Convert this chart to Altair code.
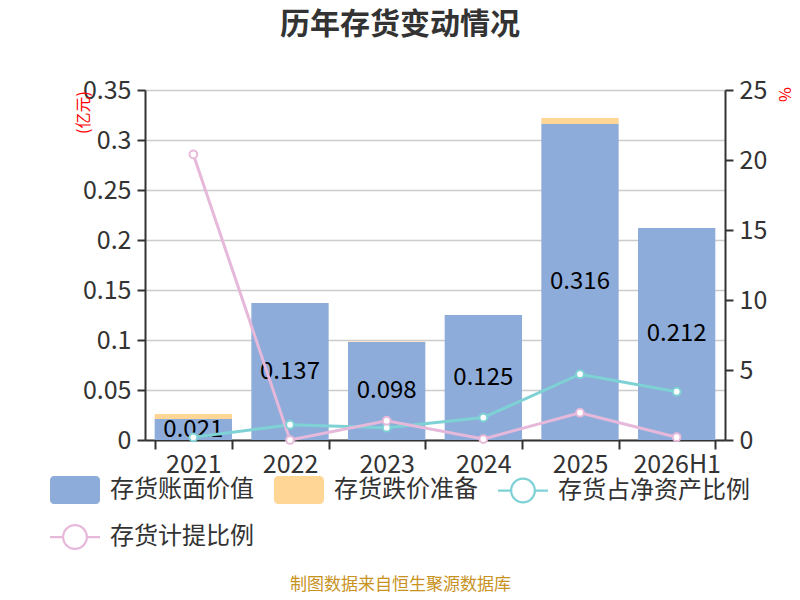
import altair as alt
import pandas as pd

years = ["2021", "2022", "2023", "2024", "2025", "2026H1"]
book_value = [0.021, 0.137, 0.098, 0.125, 0.316, 0.212]
provision = [0.005, 0.0, 0.0005, 0.0, 0.006, 0.0]
inv_net_ratio = [0.19, 1.09, 0.88, 1.6, 4.7, 3.45]
prov_ratio = [20.4, 0.0, 1.38, 0.07, 1.95, 0.2]

series_names = ["存货账面价值", "存货跌价准备", "存货占净资产比例", "存货计提比例"]
series_colors = ["#8EACDA", "#FFD696", "#7ED2D5", "#E6B8DA"]
left_ticks = [0, 0.05, 0.1, 0.15, 0.2, 0.25, 0.3, 0.35]
right_ticks = [0, 5, 10, 15, 20, 25]

FONT = "Noto Sans CJK SC"

bar_rows = []
for y, b, p in zip(years, book_value, provision):
    bar_rows.append({"year": y, "series": series_names[0], "value": b, "ord": 0})
    bar_rows.append({"year": y, "series": series_names[1], "value": p, "ord": 1})
bars_df = pd.DataFrame(bar_rows)
label_df = pd.DataFrame({"year": years, "value": book_value})

line_rows = []
for y, v in zip(years, inv_net_ratio):
    line_rows.append({"year": y, "series": series_names[2], "value": v})
for y, v in zip(years, prov_ratio):
    line_rows.append({"year": y, "series": series_names[3], "value": v})
lines_df = pd.DataFrame(line_rows)

# legend symbol shapes (unit [-1, 1] paths)
RECT = ("M-0.84,-0.56H0.84A0.16,0.16,0,0,1,1,-0.4V0.4A0.16,0.16,0,0,1,0.84,0.56"
        "H-0.84A0.16,0.16,0,0,1,-1,0.4V-0.4A0.16,0.16,0,0,1,-0.84,-0.56Z")
LINESYM = ("M-1,-0.045H-0.5V0.045H-1Z"
           "M0.5,-0.045H1V0.045H0.5Z"
           "M-0.52,0A0.52,0.52,0,1,1,0.52,0A0.52,0.52,0,1,1,-0.52,0Z"
           "M-0.43,0A0.43,0.43,0,1,0,0.43,0A0.43,0.43,0,1,0,-0.43,0Z")
shape_range = [RECT, RECT, LINESYM, LINESYM]

legend = alt.Legend(
    title=None, orient="none", legendX=-95, legendY=375, columns=3,
    direction="horizontal", symbolSize=2500, labelFontSize=24,
    labelColor="#333333", labelFont=FONT, labelOffset=10, labelLimit=400,
    columnPadding=20, rowPadding=8, symbolStrokeWidth=0, symbolOpacity=1,
)

color_scale = alt.Scale(domain=series_names, range=series_colors)

x_axis = alt.Axis(
    title="制图数据来自恒生聚源数据库", titleColor="#C8921E", titleFontSize=17,
    titleFontWeight="normal", titleFont=FONT, titleX=255, titleY=144,
    titleAlign="center", titleBaseline="middle",
    labelAngle=0, labelFontSize=25, labelColor="#333333", labelFont=FONT,
    labelPadding=3, tickBand="extent", tickSize=9, tickWidth=2,
    tickColor="#333333", domainColor="#333333", domainWidth=2, grid=False,
)
x_enc = alt.X("year:N", sort=years, axis=x_axis,
              scale=alt.Scale(paddingInner=0.2, paddingOuter=0.1))

left_axis = alt.Axis(
    title="(亿元)", titleColor="red", titleFontSize=16, titleFontWeight="normal",
    titleFont=FONT, titleX=-62, titleY=22, titleAlign="center",
    titleBaseline="middle", titleAngle=270,
    values=left_ticks, format="~g", labelFontSize=25, labelColor="#333333",
    labelFont=FONT, labelPadding=6, tickSize=8, tickWidth=2,
    tickColor="#333333", domainColor="#333333", domainWidth=2,
    grid=True, gridColor="#cccccc", gridWidth=1.5,
)
left_scale = alt.Scale(domain=[0, 0.35], nice=False, zero=True)

right_axis = alt.Axis(
    orient="right", title="%", titleColor="red", titleFontSize=16,
    titleFontWeight="normal", titleFont=FONT, titleX=58, titleY=4,
    titleAngle=90, titleAlign="center", titleBaseline="middle",
    values=right_ticks, labelFontSize=25, labelColor="#333333",
    labelFont=FONT, labelPadding=6, tickSize=8, tickWidth=2,
    tickColor="#333333", domainColor="#333333", domainWidth=2, grid=False,
)
right_scale = alt.Scale(domain=[0, 25], nice=False, zero=True)

color_enc = alt.Color("series:N", scale=color_scale, legend=legend)

bars = alt.Chart(bars_df).mark_bar().encode(
    x=x_enc,
    y=alt.Y("value:Q", stack="zero", scale=left_scale, axis=left_axis),
    color=color_enc,
    order=alt.Order("ord:Q", sort="ascending"),
)

labels = alt.Chart(label_df).transform_calculate(
    mid="datum.value / 2"
).mark_text(fontSize=24, color="#000000", font=FONT, baseline="middle").encode(
    x=x_enc,
    y=alt.Y("mid:Q", scale=left_scale, axis=left_axis),
    text=alt.Text("value:Q", format=".3f"),
)

lines = alt.Chart(lines_df).mark_line(
    strokeWidth=3,
    point=alt.OverlayMarkDef(filled=False, fill="white", size=60, strokeWidth=2),
).encode(
    x=x_enc,
    y=alt.Y("value:Q", scale=right_scale, axis=right_axis),
    color=color_enc,
)

# empty layer that only carries the legend symbol shape per series
legend_layer = alt.Chart(lines_df).transform_filter("false").mark_point(
    filled=True, opacity=1
).encode(
    x=x_enc,
    y=alt.Y("value:Q", scale=right_scale, axis=right_axis),
    color=color_enc,
    shape=alt.Shape("series:N", scale=alt.Scale(domain=series_names, range=shape_range),
                    legend=legend),
)

left = alt.layer(bars, labels)
right = alt.layer(lines, legend_layer)
chart = alt.layer(left, right).resolve_scale(y="independent").properties(
    width=580, height=350,
    autosize=alt.AutoSizeParams(type="none"),
    padding={"left": 137, "top": 82, "right": 67, "bottom": 152},
    title=alt.TitleParams(
        text="历年存货变动情况", fontSize=30, fontWeight="bold", color="#333333",
        font=FONT, anchor="middle", dx=-35, offset=38,
    ),
).configure_view(stroke=None).configure(font=FONT)

chart.save("out.html", embed_options={"renderer": "svg", "actions": False})
